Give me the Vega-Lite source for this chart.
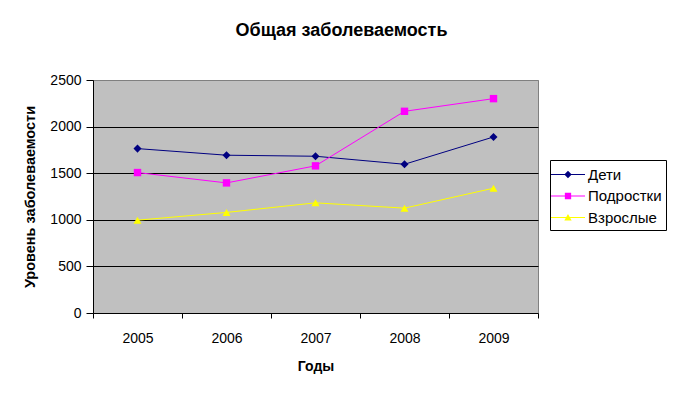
{
  "$schema": "https://vega.github.io/schema/vega-lite/v6.json",
  "width": 445,
  "height": 233,
  "autosize": {"type": "none"},
  "padding": {"left": 93, "top": 80, "right": 145, "bottom": 81},
  "background": "white",
  "title": {
    "text": "Общая заболеваемость",
    "font": "Liberation Sans",
    "fontSize": 18,
    "fontWeight": "bold",
    "color": "black",
    "anchor": "middle",
    "baseline": "alphabetic",
    "dx": 26,
    "offset": 19
  },
  "config": {
    "font": "Liberation Sans",
    "view": {"fill": "#C0C0C0", "stroke": "#808080", "strokeWidth": 1}
  },
  "data": {
    "values": [
      {"year": "2005", "series": "Дети", "value": 1764},
      {"year": "2006", "series": "Дети", "value": 1693},
      {"year": "2007", "series": "Дети", "value": 1682},
      {"year": "2008", "series": "Дети", "value": 1596},
      {"year": "2009", "series": "Дети", "value": 1889},
      {"year": "2005", "series": "Подростки", "value": 1507},
      {"year": "2006", "series": "Подростки", "value": 1396},
      {"year": "2007", "series": "Подростки", "value": 1579},
      {"year": "2008", "series": "Подростки", "value": 2164},
      {"year": "2009", "series": "Подростки", "value": 2300},
      {"year": "2005", "series": "Взрослые", "value": 996},
      {"year": "2006", "series": "Взрослые", "value": 1079},
      {"year": "2007", "series": "Взрослые", "value": 1182},
      {"year": "2008", "series": "Взрослые", "value": 1125},
      {"year": "2009", "series": "Взрослые", "value": 1339}
    ]
  },
  "encoding": {
    "x": {
      "field": "year",
      "type": "ordinal",
      "scale": {"paddingInner": 0, "paddingOuter": 0},
      "axis": {
        "title": "Годы",
        "titleFont": "Liberation Sans",
        "titleFontSize": 14,
        "titleFontWeight": "bold",
        "titleColor": "black",
        "titlePadding": 14,
        "labelAngle": 0,
        "labelFont": "Liberation Sans",
        "labelFontSize": 14,
        "labelColor": "black",
        "labelPadding": 13,
        "tickBand": "extent",
        "tickColor": "black",
        "tickSize": 5,
        "domainColor": "black",
        "grid": false
      }
    },
    "y": {
      "field": "value",
      "type": "quantitative",
      "scale": {"domain": [0, 2500], "nice": false},
      "axis": {
        "title": "Уровень заболеваемости",
        "titleFont": "Liberation Sans",
        "titleFontSize": 14.5,
        "titleFontWeight": "bold",
        "titleColor": "black",
        "titlePadding": 12,
        "values": [0, 500, 1000, 1500, 2000, 2500],
        "format": "d",
        "labelFont": "Liberation Sans",
        "labelFontSize": 14,
        "labelColor": "black",
        "labelPadding": 5,
        "tickColor": "black",
        "tickSize": 7,
        "domainColor": "black",
        "grid": true,
        "gridColor": {"condition": {"test": "datum.value == 2500 || datum.value == 0", "value": "#808080"}, "value": "black"},
        "gridOpacity": 1,
        "gridWidth": 1
      }
    }
  },
  "layer": [
    {
      "transform": [{"filter": "datum.series == 'Дети'"}],
      "mark": {"type": "point", "filled": true, "opacity": 0},
      "encoding": {
        "fill": {
          "field": "series",
          "type": "nominal",
          "scale": {"domain": ["Дети", "Подростки", "Взрослые"], "range": ["#000080", "#FF00FF", "#FFFF00"]},
          "legend": {
            "title": null,
            "orient": "none",
            "legendX": 457,
            "legendY": 80,
            "strokeColor": "black",
            "fillColor": "white",
            "padding": 4,
            "rowPadding": 2.5,
            "symbolSize": 441,
            "symbolStrokeWidth": 0,
            "symbolOpacity": 1,
            "labelOffset": 13,
            "labelFont": "Liberation Sans",
            "labelFontSize": 15,
            "labelColor": "black",
            "encode": {"symbols": {"update": {"opacity": {"value": 1}}}}
          }
        },
        "shape": {
          "field": "series",
          "type": "nominal",
          "scale": {
            "domain": ["Дети", "Подростки", "Взрослые"],
            "range": [
              "M-1.287,-0.048H1.953V0.048H-1.287Z M0.333,-0.35L0.683,0L0.333,0.35L-0.017,0Z",
              "M-1.287,-0.048H1.953V0.048H-1.287Z M0.033,-0.3H0.633V0.3H0.033Z",
              "M-1.287,-0.048H1.953V0.048H-1.287Z M0.333,-0.33L0.683,0.28H-0.017Z"
            ]
          },
          "legend": {
            "title": null,
            "orient": "none",
            "legendX": 457,
            "legendY": 80,
            "strokeColor": "black",
            "fillColor": "white",
            "padding": 4,
            "rowPadding": 2.5,
            "symbolSize": 441,
            "symbolStrokeWidth": 0,
            "symbolOpacity": 1,
            "labelOffset": 13,
            "labelFont": "Liberation Sans",
            "labelFontSize": 15,
            "labelColor": "black",
            "encode": {"symbols": {"update": {"opacity": {"value": 1}}}}
          }
        }
      }
    },
    {
      "mark": {"type": "line", "strokeWidth": 1},
      "encoding": {
        "color": {
          "field": "series",
          "type": "nominal",
          "scale": {"domain": ["Дети", "Подростки", "Взрослые"], "range": ["#000080", "#FF00FF", "#FFFF00"]},
          "legend": null
        }
      }
    },
    {
      "transform": [{"filter": "datum.series == 'Дети'"}],
      "mark": {"type": "point", "filled": true, "opacity": 1, "size": 65, "shape": "diamond"},
      "encoding": {
        "color": {"field": "series", "type": "nominal", "legend": null}
      }
    },
    {
      "transform": [{"filter": "datum.series == 'Подростки'"}],
      "mark": {"type": "point", "filled": true, "opacity": 1, "size": 55, "shape": "square"},
      "encoding": {
        "color": {"field": "series", "type": "nominal", "legend": null}
      }
    },
    {
      "transform": [{"filter": "datum.series == 'Взрослые'"}],
      "mark": {"type": "point", "filled": true, "opacity": 1, "size": 65, "shape": "triangle-up"},
      "encoding": {
        "color": {"field": "series", "type": "nominal", "legend": null}
      }
    }
  ]
}
